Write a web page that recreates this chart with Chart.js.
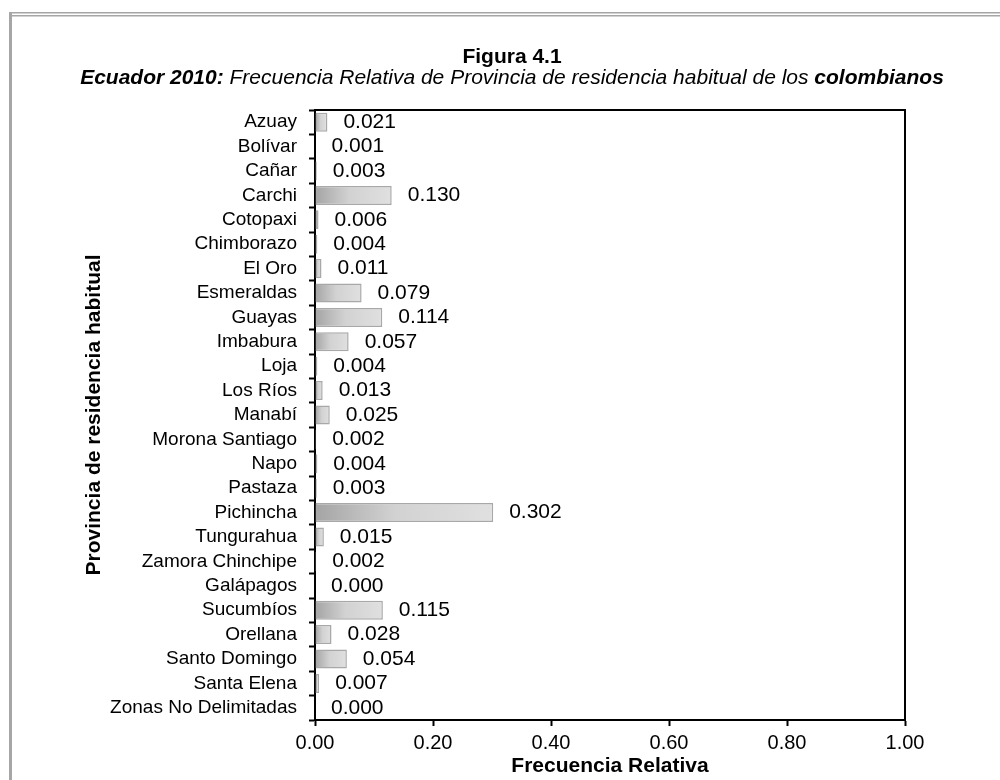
<!DOCTYPE html>
<html>
<head>
<meta charset="utf-8">
<script src="https://cdn.jsdelivr.net/npm/chart.js@4"></script>
<style>
    body { margin: 0; background: #fff; }
    #wrap { width: 1000px; height: 780px; position: relative; }
</style>
</head>
<body>
<div id="wrap"><canvas id="chart"></canvas></div>
<script>
const FONT = "Arial, 'Liberation Sans', sans-serif";

const provincias = [
    'Azuay', 'Bolívar', 'Cañar', 'Carchi', 'Cotopaxi', 'Chimborazo', 'El Oro',
    'Esmeraldas', 'Guayas', 'Imbabura', 'Loja', 'Los Ríos', 'Manabí',
    'Morona Santiago', 'Napo', 'Pastaza', 'Pichincha', 'Tungurahua',
    'Zamora Chinchipe', 'Galápagos', 'Sucumbíos', 'Orellana', 'Santo Domingo',
    'Santa Elena', 'Zonas No Delimitadas'
];
const frecuencia = [
    0.021, 0.001, 0.003, 0.130, 0.006, 0.004, 0.011,
    0.079, 0.114, 0.057, 0.004, 0.013, 0.025,
    0.002, 0.004, 0.003, 0.302, 0.015,
    0.002, 0.000, 0.115, 0.028, 0.054,
    0.007, 0.000
];
const xTicks = [0, 0.2, 0.4, 0.6, 0.8, 1.0];

const titulo = 'Figura 4.1';
const subtitulo = [
    { text: 'Ecuador 2010:', style: 'italic bold' },
    { text: ' Frecuencia Relativa de Provincia de residencia habitual de los ', style: 'italic' },
    { text: 'colombianos', style: 'italic bold' }
];

// gray frame, title lines and the box round the plot
const decoration = {
    id: 'decoration',
    beforeDraw(chart) {
        const ctx = chart.ctx;
        ctx.save();
        ctx.fillStyle = '#a6a6a6';
        ctx.fillRect(9, 12, 3, 780);
        ctx.fillRect(9, 12, 1000, 1.5);
        ctx.fillRect(12, 15, 1000, 1.5);
        ctx.restore();
    },
    afterDraw(chart) {
        const ctx = chart.ctx;
        const a = chart.chartArea;
        ctx.save();
        ctx.strokeStyle = '#000';
        ctx.lineWidth = 2;
        ctx.beginPath();
        ctx.moveTo(a.left, a.top);
        ctx.lineTo(a.right, a.top);
        ctx.lineTo(a.right, a.bottom);
        ctx.stroke();

        const cx = 512;
        ctx.fillStyle = '#000';
        ctx.textBaseline = 'middle';
        ctx.textAlign = 'center';
        ctx.font = 'bold 21px ' + FONT;
        ctx.fillText(titulo, cx, 57);

        ctx.textAlign = 'left';
        let total = 0;
        subtitulo.forEach(s => {
            ctx.font = s.style + ' 21px ' + FONT;
            total += ctx.measureText(s.text).width;
        });
        let x = cx - total / 2;
        subtitulo.forEach(s => {
            ctx.font = s.style + ' 21px ' + FONT;
            ctx.fillText(s.text, x, 78);
            x += ctx.measureText(s.text).width;
        });
        ctx.restore();
    }
};

const valueLabels = {
    id: 'valueLabels',
    afterDatasetsDraw(chart) {
        const ctx = chart.ctx;
        const meta = chart.getDatasetMeta(0);
        ctx.save();
        ctx.font = '21px ' + FONT;
        ctx.fillStyle = '#000';
        ctx.textAlign = 'left';
        ctx.textBaseline = 'middle';
        meta.data.forEach((bar, i) => {
            ctx.fillText(frecuencia[i].toFixed(3), bar.x + 16, bar.y);
        });
        ctx.restore();
    }
};

function barFill(context) {
    const chart = context.chart;
    if (!chart.chartArea || context.dataIndex === undefined) return '#d0d0d0';
    const xs = chart.scales.x;
    const x0 = xs.getPixelForValue(0);
    const x1 = Math.max(xs.getPixelForValue(frecuencia[context.dataIndex]), x0 + 1);
    const g = chart.ctx.createLinearGradient(x0, 0, x1, 0);
    g.addColorStop(0, '#a4a4a4');
    g.addColorStop(0.45, '#d2d2d2');
    g.addColorStop(1, '#e0e0e0');
    return g;
}

new Chart(document.getElementById('chart'), {
    type: 'bar',
    data: {
        labels: provincias,
        datasets: [{
            data: frecuencia,
            backgroundColor: barFill,
            borderColor: '#a8a8a8',
            borderWidth: 1.5,
            borderSkipped: false,
            categoryPercentage: 1,
            barPercentage: 0.78
        }]
    },
    options: {
        indexAxis: 'y',
        responsive: true,
        maintainAspectRatio: false,
        animation: false,
        layout: { padding: { top: 110, right: 95, bottom: 0, left: 0 } },
        plugins: {
            legend: { display: false },
            tooltip: { enabled: false }
        },
        scales: {
            x: {
                min: 0,
                max: 1,
                afterBuildTicks: scale => {
                    scale.ticks = xTicks.map(v => ({ value: v }));
                },
                afterFit: scale => { scale.height = 60; },
                ticks: {
                    color: '#000',
                    font: { family: FONT, size: 20 },
                    padding: 5,
                    callback: v => Number(v).toFixed(2)
                },
                grid: {
                    drawOnChartArea: false,
                    tickLength: 6,
                    tickColor: '#000',
                    tickWidth: 2
                },
                border: { color: '#000', width: 2 },
                title: {
                    display: true,
                    text: 'Frecuencia Relativa',
                    color: '#000',
                    font: { family: FONT, size: 21, weight: 'bold' },
                    padding: { top: 0, bottom: 1 }
                }
            },
            y: {
                afterFit: scale => { scale.width = 315; },
                ticks: {
                    color: '#000',
                    font: { family: FONT, size: 19 },
                    padding: 12,
                    autoSkip: false
                },
                grid: {
                    drawOnChartArea: false,
                    tickLength: 6,
                    tickColor: '#000',
                    tickWidth: 2
                },
                border: { color: '#000', width: 2 },
                title: {
                    display: true,
                    text: 'Provincia de residencia habitual',
                    color: '#000',
                    font: { family: FONT, size: 21, weight: 'bold' },
                    padding: { top: 82, bottom: 0 }
                }
            }
        }
    },
    plugins: [decoration, valueLabels]
});
</script>
</body>
</html>
